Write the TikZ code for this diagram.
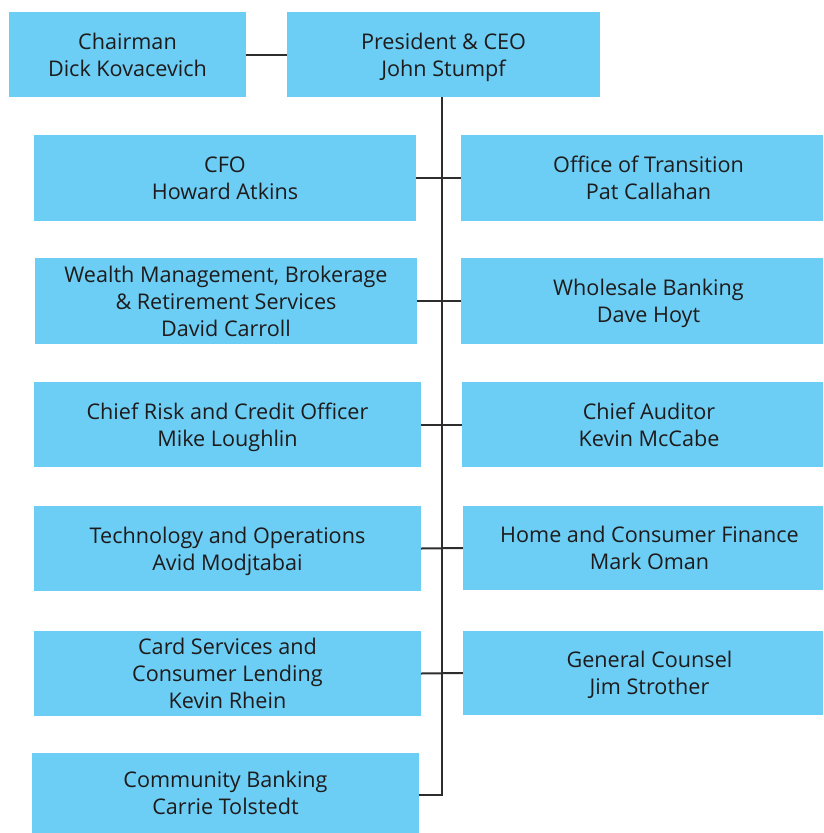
\documentclass[tikz,border=0pt]{standalone}
\usepackage{fontspec}
\setmainfont{Open Sans}
\usepackage{tikz}
\usetikzlibrary{positioning}
\definecolor{boxblue}{RGB}{108,206,244}
\definecolor{inkgray}{RGB}{30,27,28}
\definecolor{linegray}{RGB}{45,45,45}
\tikzset{every node/.append style={align=center}}
\tikzset{
  unittext/.style={text=inkgray, inner sep=0pt, text depth=0pt,
                   font=\fontsize{21.6}{27}\selectfont},
  unit/.style={unittext, fill=boxblue, draw=none, minimum height=85pt},
  % right column: text sits a little right of the box centre
  rtext/.style={label={[unittext, xshift=6.5pt]center:{#1}}},
  link/.style={draw=linegray, line width=2pt}
}

\begin{document}
\begin{tikzpicture}[x=1pt,y=-1pt]
\useasboundingbox (0,0) rectangle (824,833);

% ── Top level ────────────────────────────────────────────────────────────────
\node[unit, minimum width=237pt] (chair) at (127.5,54.5) {Chairman\\Dick Kovacevich};
\node[unit, minimum width=313pt] (ceo) at (443.5,54.5) {President \& CEO\\John Stumpf};

% ── Left column ──────────────────────────────────────────────────────────────
\node[unit, minimum width=382pt, minimum height=86pt] (cfo) at (225,178)
      {CFO\\Howard Atkins};
\node[unit, minimum width=382pt, minimum height=86pt] (wealth) at (226,301)
      {Wealth Management, Brokerage\\\& Retirement Services\\David Carroll};
\node[unit, minimum width=387pt] (risk) at (227.5,424.5)
      {Chief Risk and Credit Officer\\Mike Loughlin};
\node[unit, minimum width=387pt] (tech) at (227.5,548.5)
      {Technology and Operations\\Avid Modjtabai};
\node[unit, minimum width=387pt] (card) at (227.5,673.5)
      {Card Services and\\Consumer Lending\\Kevin Rhein};
\node[unit, minimum width=387pt, minimum height=80pt] (community) at (225.5,793)
      {Community Banking\\Carrie Tolstedt};

% ── Right column ─────────────────────────────────────────────────────────────
\node[unit, minimum width=362pt, minimum height=86pt,
      rtext={Office of Transition\\Pat Callahan}] (transition) at (642,178) {};
\node[unit, minimum width=362pt, minimum height=86pt,
      rtext={Wholesale Banking\\Dave Hoyt}] (wholesale) at (642,301) {};
\node[unit, minimum width=361pt,
      rtext={Chief Auditor\\Kevin McCabe}] (auditor) at (642.5,424.5) {};
\node[unit, minimum width=360pt, minimum height=84pt,
      rtext={Home and Consumer Finance\\Mark Oman}] (home) at (643,548) {};
\node[unit, minimum width=360pt, minimum height=84pt,
      rtext={General Counsel\\Jim Strother}] (counsel) at (643,673) {};

% ── Reporting lines ──────────────────────────────────────────────────────────
\coordinate (spine) at (442,795);
\draw[link] (chair) -- (ceo);
\draw[link] (ceo.south -| spine) -- (spine) -- (community.east |- spine);
\foreach \l/\r in {cfo/transition, wealth/wholesale, risk/auditor,
                   tech/home, card/counsel}
  \draw[link] (\l.east) -- (\r.west);

\end{tikzpicture}
\end{document}
